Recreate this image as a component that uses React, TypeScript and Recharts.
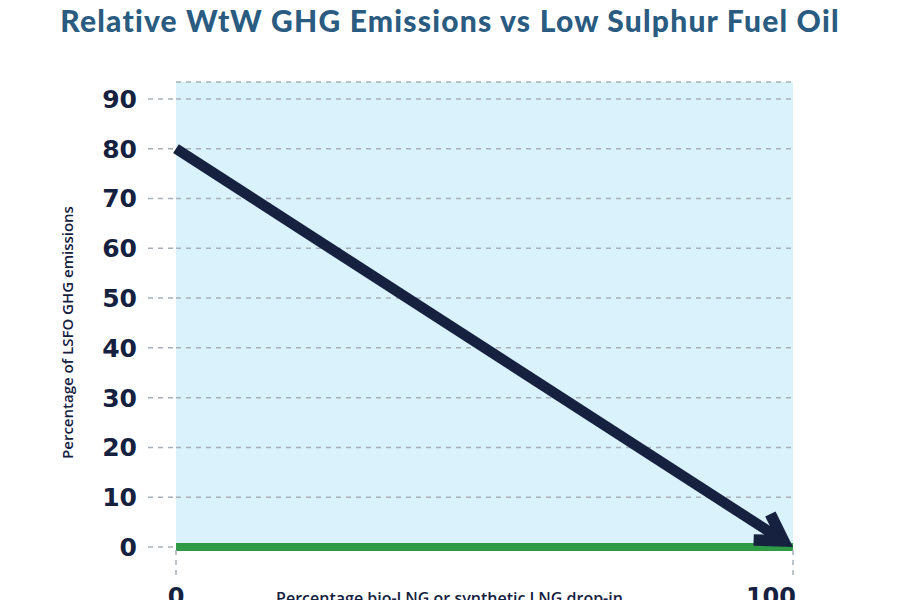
import { CartesianGrid, ComposedChart, Label, Line, XAxis, YAxis } from "recharts";

// Share of bio-LNG / synthetic LNG blended in (%)
const dropInShare = [0, 100];
// WtW GHG emissions relative to LSFO (%)
const lngEmissions = [80, 0];
const zeroLine = [0, 0];

const xTicks = [0, 100];
const yTicks = [0, 10, 20, 30, 40, 50, 60, 70, 80, 90];

const data = dropInShare.map((share, i) => ({
  share,
  lng: lngEmissions[i],
  zero: zeroLine[i],
}));

const NAVY = "#15213f";
const GREEN = "#2e9a45";
const GRID = "#a7b0b8";
const ARROW_WIDTH = 10.5;

// Draws the whole arrow (shaft + chevron head) once the last point is reached.
function ArrowDot(props: any) {
  const { index, points } = props;
  if (!points || index !== points.length - 1 || index === 0) {
    return <g key={`dot-${index}`} />;
  }
  const start = points[0];
  const end = points[index];
  const dx = end.x - start.x;
  const dy = end.y - start.y;
  const len = Math.hypot(dx, dy);
  const ux = dx / len;
  const uy = dy / len;
  const spread = (31 * Math.PI) / 180;
  const armLen = 30;
  const headWidth = 11.5;
  const back = headWidth / 2 / Math.sin(spread);
  const vx = end.x - ux * back;
  const vy = end.y - uy * back;
  const arm = (sign: number) => {
    const c = Math.cos(sign * spread);
    const s = Math.sin(sign * spread);
    const rx = -ux * c + uy * s;
    const ry = -ux * s - uy * c;
    return `${vx + rx * armLen},${vy + ry * armLen}`;
  };
  return (
    <g key={`dot-${index}`}>
      <path
        d={`M${start.x},${start.y}L${vx + ux * 2},${vy + uy * 2}`}
        stroke={NAVY}
        strokeWidth={ARROW_WIDTH}
        fill="none"
      />
      <path
        d={`M${arm(1)}L${vx},${vy}L${arm(-1)}`}
        stroke={NAVY}
        strokeWidth={headWidth}
        strokeLinejoin="miter"
        fill="none"
      />
    </g>
  );
}

function XTick(props: any) {
  const { x, y, payload, index } = props;
  const last = index === xTicks.length - 1;
  return (
    <text
      x={last ? x + 3 : x}
      y={y}
      dy={28}
      textAnchor={last ? "end" : "middle"}
      fill={NAVY}
      fontSize={24}
      fontWeight={700}
      fontFamily="DejaVu Sans"
    >
      {payload.value}
    </text>
  );
}

export default function App() {
  return (
    <div
      style={{
        position: "absolute",
        left: 0,
        top: 0,
        width: 900,
        height: 600,
        background: "#ffffff",
        overflow: "hidden",
      }}
    >
      <div
        style={{
          position: "absolute",
          top: 2,
          left: 0,
          width: 900,
          textAlign: "center",
          fontFamily: "Lato",
          fontWeight: 900,
          fontSize: 30,
          letterSpacing: 1.2,
          color: "#2a5b80",
          lineHeight: "36px",
        }}
      >
        Relative WtW GHG Emissions vs Low Sulphur Fuel Oil
      </div>
      <ComposedChart
        width={900}
        height={600}
        data={data}
        margin={{ top: 82, right: 107, left: 0, bottom: 0 }}
      >
        {/* plot background */}
        <CartesianGrid horizontal={false} vertical={false} fill="#daf2fb" stroke="none" />
        <CartesianGrid
          vertical={false}
          stroke={GRID}
          strokeDasharray="5 5"
          strokeWidth={1.5}
        />
        <XAxis
          dataKey="share"
          type="number"
          domain={[0, 100]}
          ticks={xTicks}
          height={53}
          axisLine={false}
          tickSize={28}
          tickMargin={2}
          tickLine={{ stroke: GRID, strokeDasharray: "5 5", strokeWidth: 1.5 }}
          tick={<XTick />}
        >
          <Label
            content={({ viewBox }: any) => (
              <text
                x={viewBox.x + viewBox.width / 2 - 35}
                y={viewBox.y + 57}
                textAnchor="middle"
                fill={NAVY}
                fontSize={16}
                fontWeight={600}
                fontFamily="Open Sans"
              >
                Percentage bio-LNG or synthetic LNG drop-in
              </text>
            )}
          />
        </XAxis>
        <YAxis
          type="number"
          domain={[0, 93.4]}
          ticks={yTicks}
          width={176}
          axisLine={false}
          tickSize={28}
          tickMargin={11}
          tickLine={{ stroke: GRID, strokeDasharray: "5 5", strokeWidth: 1.5 }}
          tick={{ fill: NAVY, fontSize: 25, fontWeight: 700, fontFamily: "DejaVu Sans" }}
        >
          <Label
            content={({ viewBox }: any) => {
              const cx = 73;
              const cy = viewBox.y + viewBox.height / 2 + 18;
              return (
                <text
                  x={cx}
                  y={cy}
                  transform={`rotate(-90 ${cx} ${cy})`}
                  textAnchor="middle"
                  fill={NAVY}
                  fontSize={15}
                  fontWeight={600}
                  fontFamily="Open Sans"
                >
                  Percentage of LSFO GHG emissions
                </text>
              );
            }}
          />
        </YAxis>
        <Line
          dataKey="zero"
          stroke={GREEN}
          strokeWidth={8}
          dot={false}
          activeDot={false}
          isAnimationActive={false}
        />
        <Line
          dataKey="lng"
          stroke="none"
          dot={<ArrowDot />}
          activeDot={false}
          isAnimationActive={false}
        />
      </ComposedChart>
    </div>
  );
}
